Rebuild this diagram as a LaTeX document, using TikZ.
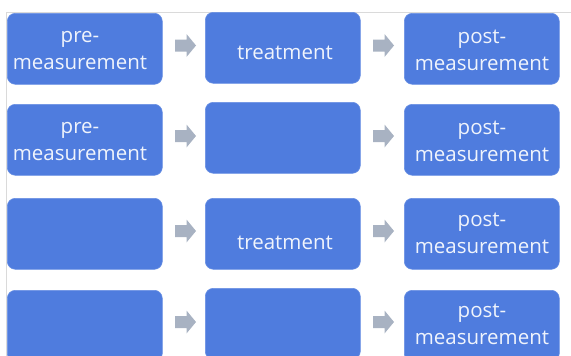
\documentclass[tikz,border=0pt]{standalone}
\usepackage{fontspec}
\setmainfont{Open Sans}
\definecolor{boxblue}{RGB}{79,124,222}
\definecolor{arrgray}{RGB}{168,178,194}
\definecolor{frame}{RGB}{218,218,218}
\definecolor{txt}{RGB}{240,244,252}
\tikzset{
  box/.style={draw=boxblue!85!white, line width=0.6pt, fill=boxblue, rounded corners=8pt, minimum width=155pt, minimum height=71pt, inner sep=0pt, anchor=north west},
  lbl/.style={text=txt, font=\fontsize{20.5}{27}\selectfont, align=center, inner sep=0pt},
  blk/.style={fill=arrgray, draw=none},
}
\newcommand{\blockarrow}[3]{%
  \coordinate (#1) at (#2,#3);
  \fill[blk] (#1) ++(-10.5,-6) -- ++(11.5,0) -- ++(0,-5.5) -- ++(9.5,11.5) -- ++(-9.5,11.5) -- ++(0,-5.5) -- ++(-11.5,0) -- cycle;}
\begin{document}
\begin{tikzpicture}[x=1pt,y=-1pt]
\useasboundingbox (0,0) rectangle (571,356);
\draw[frame, line width=0.8pt] (571,12) -- (6,12) -- (6,356);
% row 1
\node[box] (a1) at (7,13) {};
\node[box] (b1) at (205,12) {};
\node[box] (c1) at (404,13) {};
% row 2
\node[box] (a2) at (7,104) {};
\node[box] (b2) at (205,102) {};
\node[box] (c2) at (404,104) {};
% row 3
\node[box] (a3) at (7,198) {};
\node[box] (b3) at (205,198) {};
\node[box] (c3) at (404,198) {};
% row 4
\node[box] (a4) at (7,290) {};
\node[box] (b4) at (205,288) {};
\node[box] (c4) at (404,290) {};
% labels
\node[lbl] (ta1) at (80,50.5) {pre-\\measurement};
\node[lbl] (tb1) at (285,53) {treatment};
\node[lbl] (tc1) at (482,50.5) {post-\\measurement};
\node[lbl] (ta2) at (80,141.5) {pre-\\measurement};
\node[lbl] (tc2) at (482,141.5) {post-\\measurement};
\node[lbl] (tb3) at (285,242.5) {treatment};
\node[lbl] (tc3) at (482,233.5) {post-\\measurement};
\node[lbl] (tc4) at (482,324.5) {post-\\measurement};
% arrows
\blockarrow{p1}{185.5}{45.5}
\blockarrow{q1}{383.5}{45.5}
\blockarrow{p2}{185.5}{136}
\blockarrow{q2}{383.5}{136}
\blockarrow{p3}{185.5}{231}
\blockarrow{q3}{383.5}{231}
\blockarrow{p4}{185.5}{322}
\blockarrow{q4}{383.5}{322}
\end{tikzpicture}
\end{document}
